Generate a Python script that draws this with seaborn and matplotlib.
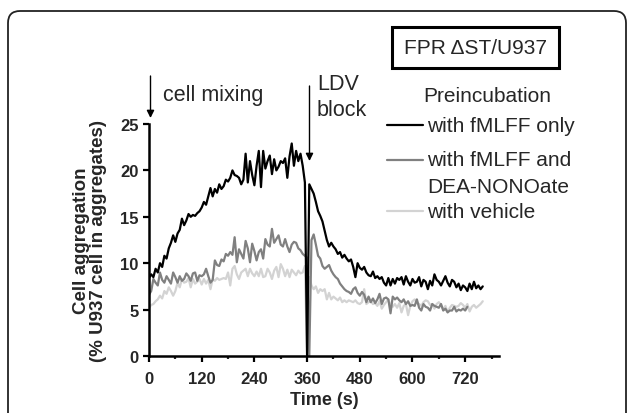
"""Cell aggregation time course after cell mixing (FPR dST/U937)."""
import numpy as np
import pandas as pd
import matplotlib
matplotlib.use("Agg")
import matplotlib.pyplot as plt
import matplotlib.patches as mpatches
from matplotlib.lines import Line2D
from matplotlib.transforms import IdentityTransform
import seaborn as sns

# sampling every 5 s, 0..760 s
TIME_S = np.arange(0, 765, 5)

FMLFF_ONLY = [
    8.4, 8.8, 8.5, 9.4, 9.0, 10.0, 9.6, 10.8, 10.5, 11.6, 12.2, 13.0,
    12.3, 13.2, 13.6, 14.8, 14.1, 14.6, 15.3, 15.0, 15.2, 15.1, 15.4, 15.6,
    16.0, 16.6, 16.3, 17.2, 18.1, 17.2, 18.0, 17.6, 18.5, 18.0, 18.3, 19.0,
    18.8, 19.2, 20.0, 19.5, 19.4, 19.2, 18.5, 19.0, 21.8, 18.7, 21.0, 19.5,
    18.4, 20.5, 22.1, 18.2, 22.1, 20.2, 21.0, 21.6, 19.6, 21.2, 20.0, 20.4,
    21.0, 20.8, 21.3, 19.2, 21.5, 22.9, 20.5, 22.1, 21.0, 21.8, 20.5, 18.7,
    0.0, 18.5, 18.0, 17.5, 16.6, 15.6, 15.1, 14.5, 13.5, 12.5, 11.8, 12.2,
    11.8, 11.5, 11.0, 11.2, 10.6, 10.9, 10.5, 10.2, 10.4, 9.6, 8.5, 10.0,
    9.5, 9.3, 9.6, 9.0, 8.7, 8.6, 9.1, 8.4, 8.6, 8.3, 8.5, 7.9,
    7.6, 8.4, 7.6, 8.3, 7.8, 8.4, 8.2, 8.5, 7.7, 8.6, 8.0, 7.6,
    8.3, 7.9, 8.0, 8.5, 7.5, 8.2, 8.0, 7.2, 8.1, 7.6, 8.8, 8.2,
    8.0, 7.6, 8.1, 8.6, 7.9, 7.5, 8.2, 8.0, 7.4, 7.8, 7.1, 7.6,
    7.4, 7.0, 7.8, 7.2, 8.0, 7.3, 7.6, 7.2, 7.5,
]

FMLFF_DEA = [
    6.6, 7.0, 8.3, 7.9, 7.6, 9.0, 8.2, 7.9, 8.6, 8.2, 7.8, 9.0,
    8.5, 7.9, 8.6, 8.1, 8.3, 8.9, 8.6, 8.1, 8.9, 9.0, 8.1, 8.7,
    8.6, 8.8, 9.4, 8.6, 7.9, 8.2, 10.3, 9.8, 9.7, 10.4, 10.2, 11.0,
    10.8, 11.2, 10.9, 12.8, 10.1, 11.5, 11.0, 10.5, 12.4, 11.6, 10.1, 12.1,
    11.3, 10.3, 11.2, 11.5, 10.5, 12.6, 12.0, 11.8, 13.7, 12.2, 12.6, 13.0,
    12.0, 11.8, 12.6, 11.8, 11.2, 12.0, 12.3, 12.2, 11.6, 11.4, 11.0, 10.8,
    10.6, 0.0, 12.5, 13.1, 12.0, 10.8, 10.5, 9.7, 9.4, 9.6, 9.8, 9.2,
    8.8, 8.5, 8.3, 7.8, 7.5, 7.2, 7.0, 6.9, 6.7, 7.2, 7.4, 6.8,
    6.5, 6.9, 6.6, 5.8, 6.4, 5.8, 6.2, 5.7, 6.1, 6.7, 5.6, 6.2,
    6.3, 6.1, 4.6, 6.4, 6.1, 6.3, 6.0, 5.8, 6.1, 5.6, 5.9, 5.4,
    5.5, 5.4, 6.1, 5.2, 4.9, 5.6, 5.3, 5.2, 4.9, 5.6, 5.4, 5.3,
    5.2, 5.6, 4.9, 5.1, 4.7, 4.9, 4.9, 5.3, 4.8, 5.0, 4.9, 5.1,
    4.9, 5.3, np.nan, np.nan, np.nan, np.nan, np.nan, np.nan, np.nan,
]

VEHICLE = [
    5.2, 5.5, 5.6, 5.9, 6.1, 6.5, 6.2, 7.0, 6.7, 7.4, 7.0, 6.5,
    7.0, 7.9, 7.4, 8.3, 7.9, 8.0, 8.4, 7.4, 8.3, 7.8, 8.0, 8.3,
    7.7, 8.3, 7.8, 8.2, 7.2, 8.3, 8.1, 8.4, 8.2, 8.3, 8.4, 8.3,
    9.0, 7.6, 9.4, 9.7, 8.8, 8.3, 9.0, 9.2, 9.4, 8.6, 9.4, 8.9,
    8.6, 9.1, 8.6, 9.4, 8.5, 8.6, 9.4, 9.0, 8.3, 9.2, 9.6, 8.5,
    9.9, 9.4, 8.6, 9.3, 8.5, 9.3, 9.0, 8.7, 9.2, 8.9, 9.0, 9.7,
    0.0, 8.5, 7.6, 7.2, 7.5, 6.8, 7.2, 7.0, 7.2, 6.1, 6.8, 6.1,
    6.4, 6.2, 6.0, 6.3, 5.8, 6.0, 5.8, 6.0, 5.9, 5.8, 6.0, 5.7,
    5.6, 5.8, 7.2, 5.6, 5.8, 5.9, 5.6, 5.7, 5.4, 5.9, 5.1, 5.5,
    5.8, 6.1, 5.5, 5.3, 5.6, 5.2, 5.7, 4.7, 5.4, 5.6, 4.4, 5.4,
    5.9, 6.1, 5.7, 5.6, 5.4, 5.8, 6.0, 5.9, 5.5, 5.6, 5.1, 5.6,
    5.8, 5.5, 5.0, 5.4, 4.7, 5.2, 5.5, 5.4, 5.3, 5.4, 5.7, 5.5,
    5.2, 5.6, 4.8, 5.3, 5.5, 5.2, 5.4, 5.6, 5.9,
]

SERIES = ["with vehicle", "with fMLFF and\nDEA-NONOate", "with fMLFF only"]
COLORS = ["#d3d3d3", "#808080", "#000000"]
X_TICKS = [0, 120, 240, 360, 480, 600, 720]
Y_TICKS = [0, 5, 10, 15, 20, 25]

W, H = 629, 414


def fpx(x, y):
    # image pixel (top-left origin) -> figure fraction
    return x / W, 1 - y / H


def main():
    sns.set_style("ticks")
    plt.rcParams["font.family"] = ["Liberation Sans", "DejaVu Sans"]

    df = pd.DataFrame({
        "time": np.tile(TIME_S, 3),
        "value": np.concatenate([VEHICLE, FMLFF_DEA, FMLFF_ONLY]),
        "series": np.repeat(SERIES, len(TIME_S)),
    }).dropna()

    fig = plt.figure(figsize=(W / 100, H / 100), dpi=100)
    ax = fig.add_axes([149 / W, 57 / H, 350 / W, 232 / H])

    sns.lineplot(data=df, x="time", y="value", hue="series", hue_order=SERIES,
                 palette=COLORS, estimator=None, sort=False, lw=1.6,
                 legend=False, ax=ax)

    ax.set_xlim(0, 797)
    ax.set_ylim(0, 25)
    ax.set_xticks(X_TICKS)
    ax.set_xticks(np.arange(60, 800, 120), minor=True)
    ax.set_yticks(Y_TICKS)
    for lbl in ax.get_xticklabels() + ax.get_yticklabels():
        lbl.set_fontweight("bold")
    ax.tick_params(axis="both", which="major", width=1.6, length=4.5,
                   labelsize=12, color="black")
    ax.tick_params(axis="x", which="major", pad=6)
    ax.tick_params(axis="y", which="major", pad=3)
    ax.tick_params(axis="x", which="minor", width=1.6, length=2.5)
    sns.despine(ax=ax)
    for side in ["left", "bottom"]:
        ax.spines[side].set_linewidth(1.8)
        ax.spines[side].set_color("black")

    ax.set_xlabel("Time (s)", fontsize=13, fontweight="bold", labelpad=4)
    ax.set_ylabel("Cell aggregation\n(% U937 cell in aggregates)", fontsize=13.5,
                  fontweight="bold", linespacing=1.0)
    ax.yaxis.set_label_coords(-0.12, 0.5)

    # outer rounded frame
    frame = mpatches.FancyBboxPatch((8, -30), 618, H - 12 + 30,
                                    boxstyle="round,pad=0,rounding_size=12",
                                    transform=IdentityTransform(), fill=False,
                                    lw=1.3, edgecolor="#222222")
    fig.patches.append(frame)

    # title box
    box = mpatches.Rectangle((392, H - 69), 167, 41, transform=IdentityTransform(),
                             fill=False, lw=2.2, edgecolor="black")
    fig.patches.append(box)
    fig.text(*fpx(475.5, 49), "FPR \u0394ST/U937", fontsize=15, ha="center", va="center")

    # event arrows
    arrow = dict(arrowstyle="-|>", color="black", lw=1.0, mutation_scale=11,
                 shrinkA=0, shrinkB=0)
    fig.add_artist(matplotlib.patches.FancyArrowPatch(
        fpx(150.5, 77), fpx(150.5, 119), transform=fig.transFigure, **arrow))
    fig.add_artist(matplotlib.patches.FancyArrowPatch(
        fpx(309.5, 87), fpx(309.5, 162), transform=fig.transFigure, **arrow))
    fig.text(*fpx(163, 101), "cell mixing", fontsize=15.5, ha="left", va="baseline")
    fig.text(*fpx(317, 90), "LDV", fontsize=15.5, ha="left", va="baseline")
    fig.text(*fpx(317, 116), "block", fontsize=15.5, ha="left", va="baseline")

    # legend, drawn by hand
    fig.text(*fpx(487.5, 102), "Preincubation", fontsize=15, ha="center", va="baseline")
    entries = [
        ("#000000", 126, [("with fMLFF only", 132)]),
        ("#808080", 161, [("with fMLFF and", 166), ("DEA-NONOate", 193)]),
        ("#d3d3d3", 212, [("with vehicle", 218)]),
    ]
    for color, hy, texts in entries:
        x0, y0 = fpx(387, hy)
        x1, _ = fpx(423, hy)
        fig.add_artist(Line2D([x0, x1], [y0, y0], color=color, lw=1.6,
                              transform=fig.transFigure))
        for txt, by in texts:
            fig.text(*fpx(427, by), txt, fontsize=15, ha="left", va="baseline")

    fig.savefig("out.png", dpi=100)
    plt.close(fig)


if __name__ == "__main__":
    main()
